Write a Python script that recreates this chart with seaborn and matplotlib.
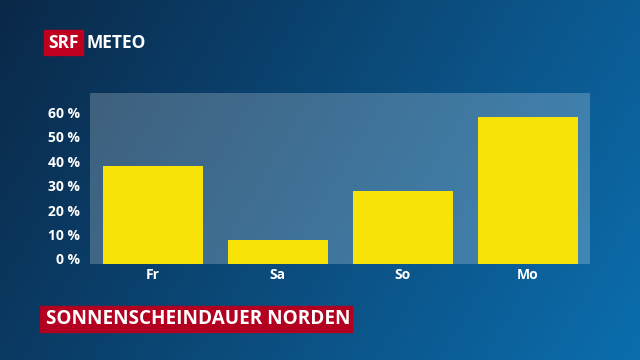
import matplotlib
matplotlib.use("Agg")
import matplotlib.pyplot as plt
import matplotlib.transforms as mtransforms
from matplotlib.patches import Rectangle
import numpy as np
import pandas as pd
import seaborn as sns

# data
days = ["Fr", "Sa", "So", "Mo"]
sunshine = [40, 10, 30, 60]  # percent of possible sunshine duration
yticks = [0, 10, 20, 30, 40, 50, 60]
ytick_labels = ["0 %", "10 %", "20 %", "30 %", "40 %", "50 %", "60 %"]
title = "SONNENSCHEINDAUER NORDEN"

df = pd.DataFrame({"day": days, "sunshine": sunshine})

sns.set_theme(style="white")
plt.rcParams["font.family"] = ["Open Sans", "DejaVu Sans"]

fig = plt.figure(figsize=(6.4, 3.6), dpi=100)

# blue gradient background, darker at top left
bg = fig.add_axes([0, 0, 1, 1], zorder=-10)
xx, yy = np.meshgrid(np.linspace(0, 1, 320), np.linspace(0, 1, 180))
t = np.clip(0.75 * xx + 0.25 * yy, 0, 1)
c0 = np.array([10, 40, 72]) / 255.0
c1 = np.array([12, 110, 174]) / 255.0
img = c0[None, None, :] * (1 - t[..., None]) + c1[None, None, :] * t[..., None]
bg.imshow(img, aspect="auto", extent=[0, 1, 0, 1], origin="upper")
bg.axis("off")

ax = fig.add_axes([90 / 640, 1 - 264 / 360, 500 / 640, 171 / 360])
ax.set_facecolor((1, 1, 1, 0.22))
sns.barplot(data=df, x="day", y="sunshine", color="#f7e308", saturation=1,
            width=0.8, linewidth=0, edgecolor="none", ax=ax)
ax.set_ylim(0, 70)
ax.set_xlim(-0.5, 3.5)
ax.set_yticks(yticks)
ax.set_yticklabels(ytick_labels)
ax.set_xlabel("")
ax.set_ylabel("")
for s in ax.spines.values():
    s.set_visible(False)
ax.tick_params(axis="both", length=0, colors="white", labelsize=10)
ax.tick_params(axis="y", pad=7)
ax.tick_params(axis="x", pad=3)
for lab in ax.get_yticklabels() + ax.get_xticklabels():
    lab.set_fontweight("bold")
# y labels sit a few pixels above their grid positions
off = mtransforms.ScaledTranslation(0, 0.05, fig.dpi_scale_trans)
for lab in ax.get_yticklabels():
    lab.set_transform(lab.get_transform() + off)

# SRF METEO logo
fig.patches.append(Rectangle((44 / 640, 1 - 55 / 360), 39 / 640, 25 / 360,
                             transform=fig.transFigure, color="#c0001f", zorder=5))
fig.text(63.5 / 640, 1 - 43 / 360, "SRF", color="white", fontsize=12.5,
         fontweight="bold", ha="center", va="center", zorder=6)
fig.text(87 / 640, 1 - 43 / 360, "METEO", color="white", fontsize=12.5,
         fontweight="bold", ha="left", va="center", zorder=6)

# title bar
fig.patches.append(Rectangle((40 / 640, 1 - 332 / 360), 312 / 640, 26 / 360,
                             transform=fig.transFigure, color="#b30020", zorder=5))
fig.text(46 / 640, 1 - 319 / 360, title, color="white", fontsize=13.6,
         fontweight="bold", ha="left", va="center", zorder=6)

fig.savefig("out.png", dpi=100)
